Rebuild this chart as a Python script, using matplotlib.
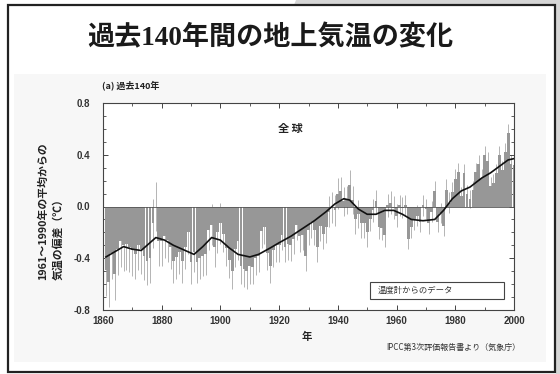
import numpy as np
import matplotlib
matplotlib.use("Agg")
import matplotlib.pyplot as plt
from matplotlib.patches import Rectangle, Polygon
from matplotlib.ticker import MultipleLocator

plt.rcParams['font.family'] = ['Noto Sans CJK JP', 'DejaVu Sans']

# ---- data -------------------------------------------------------------
years = list(range(1861, 2001))

# annual global mean surface temperature anomaly (deg C, vs 1961-1990)
anomaly = [
    -0.49, -0.58, -0.36, -0.52, -0.33, -0.27, -0.30, -0.29, -0.31, -0.34,
    -0.37, -0.30, -0.33, -0.38, -0.42, -0.40, -0.13, 0.00, -0.27, -0.27,
    -0.23, -0.26, -0.31, -0.42, -0.39, -0.35, -0.42, -0.31, -0.20, -0.43,
    -0.35, -0.43, -0.40, -0.38, -0.37, -0.18, -0.14, -0.31, -0.20, -0.13,
    -0.21, -0.32, -0.41, -0.50, -0.33, -0.27, -0.46, -0.48, -0.50, -0.46,
    -0.47, -0.40, -0.38, -0.19, -0.16, -0.36, -0.46, -0.34, -0.30, -0.30,
    -0.22, -0.31, -0.29, -0.30, -0.25, -0.14, -0.23, -0.22, -0.38, -0.18,
    -0.12, -0.18, -0.31, -0.15, -0.21, -0.16, -0.04, -0.01, -0.03, 0.10,
    0.12, 0.04, 0.05, 0.17, 0.05, -0.10, -0.06, -0.13, -0.13, -0.20,
    -0.10, -0.03, 0.04, -0.16, -0.17, -0.22, 0.01, 0.03, -0.01, -0.07,
    0.01, -0.01, 0.01, -0.25, -0.16, -0.10, -0.07, -0.12, 0.01, -0.02,
    -0.13, -0.04, 0.12, -0.12, -0.05, -0.15, 0.13, 0.03, 0.11, 0.21,
    0.27, 0.08, 0.26, 0.10, 0.06, 0.13, 0.27, 0.33, 0.22, 0.40,
    0.35, 0.16, 0.18, 0.26, 0.40, 0.28, 0.42, 0.57, 0.33, 0.32,
]

# two-sigma uncertainty for each decade (1861-1870 ... 1991-2000)
decade_error = [0.20, 0.19, 0.17, 0.16, 0.14, 0.13, 0.12,
                0.12, 0.11, 0.09, 0.08, 0.08, 0.07, 0.07]

# smoothed curve (decadal variations)
smooth_years = [1861, 1864, 1867, 1870, 1873, 1876, 1878, 1881, 1884, 1888,
                1891, 1894, 1897, 1900, 1903, 1906, 1910, 1913, 1917, 1920,
                1924, 1928, 1932, 1936, 1939, 1942, 1944, 1947, 1950, 1953,
                1956, 1959, 1962, 1965, 1969, 1973, 1976, 1979, 1982, 1985,
                1989, 1992, 1995, 1998, 2000]
smooth_values = [-0.39, -0.35, -0.31, -0.33, -0.34, -0.28, -0.24, -0.26, -0.30, -0.34,
                 -0.37, -0.31, -0.24, -0.26, -0.32, -0.37, -0.39, -0.37, -0.32, -0.28,
                 -0.23, -0.17, -0.11, -0.04, 0.02, 0.06, 0.05, -0.02, -0.06, -0.06,
                 -0.03, -0.03, -0.06, -0.10, -0.11, -0.10, -0.03, 0.06, 0.12, 0.15,
                 0.22, 0.26, 0.31, 0.36, 0.37]

x_ticks = [1860, 1880, 1900, 1920, 1940, 1960, 1980, 2000]
y_ticks = [-0.8, -0.4, 0.0, 0.4, 0.8]
y_tick_labels = ["-0.8", "-0.4", "0.0", "0.4", "0.8"]

# ---- figure -----------------------------------------------------------
W, H = 560, 374
fig = plt.figure(figsize=(W / 100, H / 100), dpi=100)
fig.patch.set_facecolor('white')

def px(x, y):
    """figure-pixel (top-left origin) to figure fraction"""
    return x / W, 1 - y / H

# slide decoration: shadow strip and frame
bg = fig.add_axes([0, 0, 1, 1], zorder=-5)
bg.set_xlim(0, W)
bg.set_ylim(H, 0)
bg.axis('off')
bg.add_patch(Polygon([[296, 0], [W, 0], [W, H], [556, H], [556, 5], [294, 5]],
                     closed=True, facecolor='#d6d6d6', edgecolor='none'))
bg.add_patch(Rectangle((14, 74), 532, 288, facecolor='#f7f7f7', edgecolor='none'))
bg.add_patch(Rectangle((8, 5), 547, 367, facecolor='none',
                       edgecolor='#222222', linewidth=1.6))

# title
fig.text(*px(270, 38), "過去140年間の地上気温の変化", ha='center', va='center',
         fontsize=19.5, fontweight='bold', color='#1a1a1a',
         family=['Liberation Serif', 'Noto Sans CJK JP'])

# main axes
l, b = px(103, 310)
r, t = px(514, 103)
ax = fig.add_axes([l, b, r - l, t - b])
ax.set_facecolor('white')

yrs = np.array(years)
vals = np.array(anomaly)
err = np.repeat(decade_error, 10)

ax.vlines(yrs, vals - err, vals + err, color='#b4b4b4', linewidth=0.7, zorder=1)
ax.bar(yrs, vals, width=0.95, color='#979797', linewidth=0, zorder=2)
ax.plot(smooth_years, smooth_values, color='#111111', linewidth=1.2, zorder=3)
ax.axhline(0, color='#555555', linewidth=0.6, zorder=2)

ax.set_xlim(1860, 2000)
ax.set_ylim(-0.8, 0.8)
ax.set_xticks(x_ticks)
ax.set_xticklabels([str(v) for v in x_ticks])
ax.set_yticks(y_ticks)
ax.set_yticklabels(y_tick_labels)
ax.xaxis.set_minor_locator(MultipleLocator(10))
ax.yaxis.set_minor_locator(MultipleLocator(0.1))
ax.tick_params(which='both', direction='in', top=True, right=True,
               labelsize=7, labelcolor='#333333', color='#444444', pad=4)
ax.tick_params(axis='y', which='major', pad=9)
ax.tick_params(which='major', length=3.5, width=0.7)
ax.tick_params(which='minor', length=2, width=0.6)
for lab in ax.get_xticklabels() + ax.get_yticklabels():
    lab.set_family(['Liberation Sans', 'DejaVu Sans'])
    lab.set_fontweight('bold')
for s in ax.spines.values():
    s.set_color('#444444')
    s.set_linewidth(0.8)

ax.text(1919.5, 0.6, "全 球", ha='left', va='center', fontsize=8,
        fontweight='bold', color='#222222')

# legend box
ax.add_patch(Rectangle((0.65, 0.053), 0.326, 0.082, transform=ax.transAxes,
                       facecolor='white', edgecolor='#444444', linewidth=0.8,
                       zorder=4))
ax.text(0.669, 0.094, "温度計からのデータ", transform=ax.transAxes,
        ha='left', va='center', fontsize=6, color='#333333', zorder=5)

# panel label and axis texts
fig.text(*px(102, 85), "(a) 過去140年", ha='left', va='center', fontsize=6.5,
         fontweight='bold', color='#222222')
fig.text(*px(307, 337), "年", ha='center', va='center', fontsize=7.5,
         fontweight='bold', color='#222222')
fig.text(*px(520, 347), "IPCC第3次評価報告書より（気象庁）", ha='right', va='center',
         fontsize=5.8, color='#333333')

fig.text(*px(43, 280), "1961～1990年の平均からの", rotation=90,
         rotation_mode='anchor', ha='left', va='center', fontsize=7.8,
         fontweight='bold', color='#222222')
fig.text(*px(58, 280), "気温の偏差（℃）", rotation=90,
         rotation_mode='anchor', ha='left', va='center', fontsize=7.8,
         fontweight='bold', color='#222222')

fig.savefig("out.png", dpi=100)
